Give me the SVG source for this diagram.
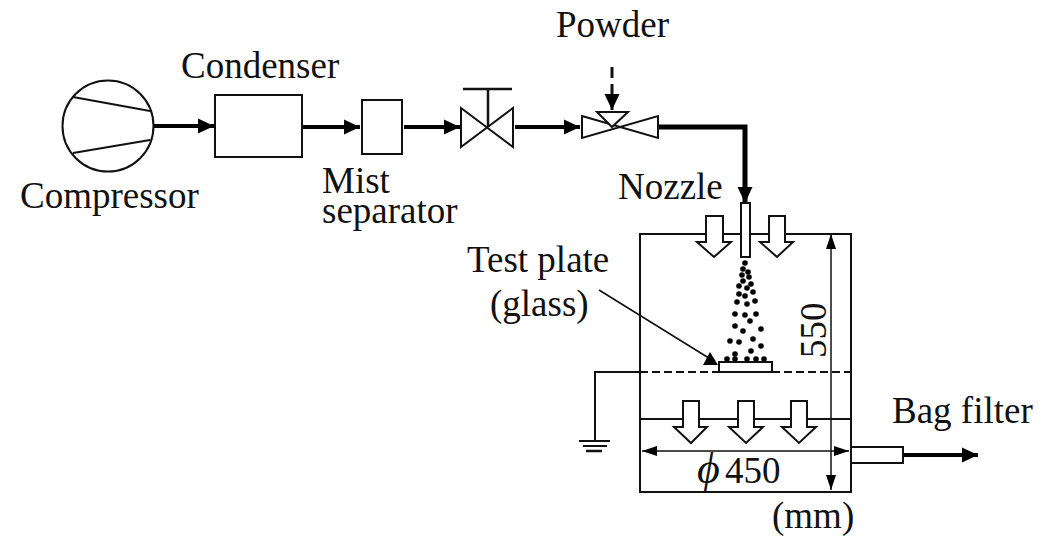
<svg xmlns="http://www.w3.org/2000/svg" width="1041" height="541" viewBox="0 0 1041 541">
<defs>
<marker id="big" markerUnits="userSpaceOnUse" markerWidth="17" markerHeight="18" refX="16" refY="9" orient="auto"><path d="M0 1.5L16 9L0 16.5Z" fill="#000"/></marker>
<marker id="thin" markerUnits="userSpaceOnUse" markerWidth="16" markerHeight="12" refX="15" refY="6" orient="auto-start-reverse"><path d="M0 1L15 6L0 11Z" fill="#000"/></marker>
</defs>
<style>
text{font-family:"Liberation Serif","Times New Roman",serif;font-size:37px;fill:#111}
.s{fill:#fff;stroke:#111;stroke-width:2}
.n{fill:none;stroke:#111;stroke-width:2}
.p{fill:none;stroke:#000;stroke-width:4}
circle.d{fill:#000}
</style>
<rect width="1041" height="541" fill="#fff"/>
<g id="chamber">
<rect class="s" x="640" y="234" width="211" height="258"/>
<path class="n" d="M640 419H851"/>
<path class="n" stroke-dasharray="8 4" d="M640 372H851"/>
</g>
<g id="connectors">
<path class="p" d="M154 126H214" marker-end="url(#big)"/>
<path class="p" d="M302 127H360" marker-end="url(#big)"/>
<path class="p" d="M404 127H460" marker-end="url(#big)"/>
<path class="p" d="M515 127H580" marker-end="url(#big)"/>
<path class="p" style="stroke-width:5" d="M659 127H745V203" marker-end="url(#big)"/>
<path class="n" style="stroke-width:3" stroke-dasharray="11 6" d="M612 67V110" marker-end="url(#big)"/>
<path class="p" d="M903 455H978" marker-end="url(#big)"/>
<path class="n" d="M640 372H595V441"/>
<path class="n" style="stroke-width:1.6" d="M599 290L712 360"/>
<path d="M710 352L703 365H718Z" fill="#000"/>
<path class="n" style="stroke-width:1.5" d="M831 234V490" marker-start="url(#thin)" marker-end="url(#thin)"/>
<path class="n" style="stroke-width:1.5" d="M642 451H849" marker-start="url(#thin)" marker-end="url(#thin)"/>
</g>
<g id="compressor">
<circle class="s" cx="108" cy="126" r="45.5"/>
<path class="n" d="M73 97L150 111M73 153L150 140"/>
<text x="20" y="208">Compressor</text>
</g>
<g id="condenser">
<rect class="s" x="215" y="95" width="87" height="62"/>
<text x="181" y="78">Condenser</text>
</g>
<g id="mist-separator">
<rect class="s" x="362" y="100" width="40" height="54"/>
<text x="322" y="193">Mist</text>
<text x="322" y="223">separator</text>
</g>
<g id="valve">
<path class="s" d="M461 108L513 147V108L461 147Z"/>
<path class="n" style="stroke-width:2.5" d="M488 127V89M463 89H512"/>
</g>
<g id="powder-valve">
<path class="s" d="M582 116L658 138V116L582 138Z"/>
<path class="s" d="M597 112H628L612 127Z"/>
<text x="556" y="37">Powder</text>
</g>
<g id="nozzle">
<rect class="s" x="741" y="203" width="9" height="54"/>
<text x="618" y="199">Nozzle</text>
</g>
<g id="air-arrows">
<path class="s" d="M706 216H723V242H731L714 257L697 242H706Z"/>
<path class="s" d="M769 216H785V242H793L777 257L760 242H769Z"/>
<path class="s" d="M683 401H699V427H707L691 443L674 427H683Z"/>
<path class="s" d="M738 401H754V427H763L746 443L729 427H738Z"/>
<path class="s" d="M791 401H807V427H816L799 443L782 427H791Z"/>
</g>
<g id="particles">
<circle class="d" cx="745" cy="263" r="2.8"/><circle class="d" cx="743" cy="269" r="2.8"/><circle class="d" cx="748" cy="272" r="2.8"/><circle class="d" cx="742" cy="275" r="2.8"/><circle class="d" cx="749" cy="277" r="2.8"/><circle class="d" cx="743" cy="281" r="2.8"/><circle class="d" cx="751" cy="284" r="2.8"/><circle class="d" cx="739" cy="286" r="2.8"/><circle class="d" cx="747" cy="288" r="2.8"/><circle class="d" cx="753" cy="292" r="2.8"/><circle class="d" cx="739" cy="294" r="2.8"/><circle class="d" cx="745" cy="296" r="2.8"/><circle class="d" cx="755" cy="301" r="2.8"/><circle class="d" cx="737" cy="302" r="2.8"/><circle class="d" cx="747" cy="304" r="2.8"/><circle class="d" cx="735" cy="314" r="2.8"/><circle class="d" cx="745" cy="315" r="2.8"/><circle class="d" cx="756" cy="314" r="2.8"/><circle class="d" cx="750" cy="321" r="2.8"/><circle class="d" cx="735" cy="326" r="2.8"/><circle class="d" cx="761" cy="329" r="2.8"/><circle class="d" cx="743" cy="331" r="2.8"/><circle class="d" cx="753" cy="339" r="2.8"/><circle class="d" cx="730" cy="341" r="2.8"/><circle class="d" cx="739" cy="342" r="2.8"/><circle class="d" cx="761" cy="346" r="2.8"/><circle class="d" cx="751" cy="351" r="2.8"/><circle class="d" cx="735" cy="354" r="2.8"/><circle class="d" cx="727" cy="359" r="2.8"/><circle class="d" cx="735" cy="359" r="2.8"/><circle class="d" cx="747" cy="359" r="2.8"/><circle class="d" cx="756" cy="359" r="2.8"/><circle class="d" cx="764" cy="359" r="2.8"/>
</g>
<g id="test-plate">
<rect class="s" x="719" y="362" width="53" height="10"/>
<text x="467" y="272">Test plate</text>
<text x="490" y="316">(glass)</text>
</g>
<g id="ground">
<path class="n" d="M579 441H610M583 446H607"/>
<path class="n" style="stroke-width:2.5" d="M586 451H602"/>
</g>
<g id="outlet">
<rect class="s" x="851" y="447" width="52" height="16"/>
<text x="892" y="423">Bag filter</text>
</g>
<g id="labels">
<text x="697" y="483"><tspan font-style="italic" font-size="44">ϕ</tspan><tspan x="725">450</tspan></text>
<text x="772" y="528">(mm)</text>
<text transform="translate(826 358) rotate(-90)">550</text>
</g>
</svg>
